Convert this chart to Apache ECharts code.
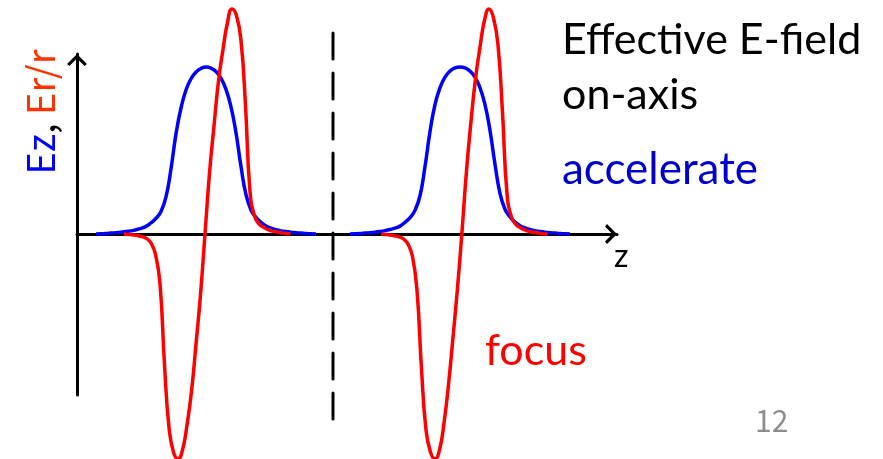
<!DOCTYPE html>
<html>
<head>
<meta charset="utf-8">
<script src="https://cdn.jsdelivr.net/npm/echarts@6/dist/echarts.min.js"></script>
<style>
html,body{margin:0;padding:0;background:#fff;}
#c{width:883px;height:459px;}
</style>
</head>
<body>
<div id="c"></div>
<script>
// Ez (accelerating field) – cell 1 and cell 2, sampled along z
const ezZ1 = [1.9,2.4,2.9,3.4,3.9,4.4,4.9,5.4,5.9,6.4,6.9,7.4,7.9,8.4,8.9,9.4,9.9,10.4,10.9,11.4,11.9,12.4,12.9,13.4,13.9,14.4,14.9,15.4,15.9,16.4,16.9,17.4,17.9,18.4,18.9,19.4,19.9,20.4,20.9,21.4,21.9,22.4,22.9,23.4,23.9];
const ezV1 = [0,0.001,0.002,0.004,0.006,0.008,0.011,0.014,0.019,0.025,0.034,0.05,0.07,0.10,0.165,0.29,0.445,0.56,0.64,0.69,0.72,0.736,0.742,0.737,0.722,0.692,0.643,0.565,0.45,0.30,0.175,0.107,0.074,0.052,0.036,0.026,0.019,0.014,0.011,0.008,0.006,0.004,0.002,0.001,0];
const ezZ2 = [27.3,27.8,28.3,28.8,29.3,29.8,30.3,30.8,31.3,31.8,32.3,32.8,33.3,33.8,34.3,34.8,35.3,35.8,36.3,36.8,37.3,37.8,38.3,38.8,39.3,39.8,40.3,40.8,41.3,41.8,42.3,42.8,43.3,43.8,44.3,44.8,45.3,45.8,46.3,46.8,47.3,47.8,48.3,48.8,49.3];
const ezV2 = [0,0.001,0.002,0.004,0.006,0.008,0.011,0.015,0.02,0.026,0.035,0.052,0.073,0.105,0.17,0.30,0.455,0.575,0.65,0.697,0.724,0.738,0.742,0.738,0.724,0.697,0.65,0.575,0.46,0.31,0.18,0.11,0.076,0.053,0.037,0.027,0.02,0.015,0.011,0.008,0.006,0.004,0.002,0.001,0];
// Er/r (focusing field) – cell 1 and cell 2
const erZ1 = [4.70,5.15,5.60,6.05,6.50,6.95,7.40,7.85,8.30,8.75,9.20,9.65,10.10,10.55,11.00,11.45,11.90,12.35,12.80,13.25,13.70,14.15,14.60,15.05,15.50,15.95,16.40,16.85,17.30,17.75,18.20,18.65,19.10,19.55,20.00,20.45,20.90,21.35];
const erV1 = [0,-0.002,-0.004,-0.007,-0.012,-0.02,-0.04,-0.09,-0.22,-0.58,-0.86,-0.97,-1.0,-0.96,-0.85,-0.70,-0.49,-0.27,0,0.27,0.48,0.68,0.82,0.94,1.0,0.97,0.86,0.57,0.19,0.08,0.045,0.03,0.02,0.013,0.009,0.005,0.002,0];
const erZ2 = [30.40,30.85,31.30,31.75,32.20,32.65,33.10,33.55,34.00,34.45,34.90,35.35,35.80,36.25,36.70,37.15,37.60,38.05,38.50,38.95,39.40,39.85,40.30,40.75,41.20,41.65,42.10,42.55,43.00,43.45,43.90,44.35,44.80,45.25,45.70,46.15,46.60,47.05];
const erV2 = [0,-0.002,-0.004,-0.008,-0.013,-0.022,-0.045,-0.10,-0.25,-0.60,-0.87,-0.97,-1.0,-0.96,-0.84,-0.67,-0.46,-0.24,0.01,0.28,0.50,0.69,0.83,0.95,1.0,0.96,0.84,0.54,0.18,0.075,0.042,0.028,0.018,0.011,0.007,0.004,0.001,0];
// cell boundary (dashed)
const cellBoundaryZ = 25.6;
const cellBoundarySpan = [0.893, -0.827];
const zRange = [0, 54];
const fieldRange = [-1, 1];

const zip = (zs, vs) => zs.map((z, i) => [z, vs[i]]);
const chevron = 'path://M10,0 L20,10 L17.6,12 L10,4.6 L2.4,12 L0,10 Z';
const chart = echarts.init(document.getElementById('c'), null, {renderer:'canvas'});
const curve = (data, color) => ({
  type:'line', xAxisIndex:0, yAxisIndex:0, data, smooth:0.5, symbol:'none',
  clip:false, lineStyle:{color, width:3.5}, silent:true
});
chart.setOption({
  animation:false,
  backgroundColor:'#ffffff',
  grid:[
    {left:77, top:9, width:540, height:450},
    {left:77, top:54, width:10, height:341}
  ],
  xAxis:[
    {gridIndex:0, type:'value', min:zRange[0], max:zRange[1],
     axisLine:{show:true, onZero:true, symbol:['none', chevron], symbolSize:[20,12], symbolOffset:[0,-6],
       lineStyle:{color:'#000', width:3}},
     axisTick:{show:false}, axisLabel:{show:false}, splitLine:{show:false}},
    {gridIndex:1, type:'value', min:0, max:1, show:false}
  ],
  yAxis:[
    {gridIndex:0, type:'value', min:fieldRange[0], max:fieldRange[1], show:false},
    {gridIndex:1, type:'value', min:0, max:1,
     axisLine:{show:true, onZero:false, symbol:['none', chevron], symbolSize:[20,12], symbolOffset:[0,-6],
       lineStyle:{color:'#000', width:3}},
     axisTick:{show:false}, axisLabel:{show:false}, splitLine:{show:false}}
  ],
  series:[
    curve(zip(ezZ1, ezV1), '#0000ff'),
    curve(zip(ezZ2, ezV2), '#0000ff'),
    curve(zip(erZ1, erV1), '#ff0000'),
    curve(zip(erZ2, erV2), '#ff0000'),
    {type:'line', xAxisIndex:0, yAxisIndex:0, symbol:'none', silent:true,
     data:[[cellBoundaryZ, cellBoundarySpan[0]],[cellBoundaryZ, cellBoundarySpan[1]]],
     lineStyle:{color:'#000', width:3, type:[26,14], cap:'round'}}
  ],
  graphic:[
    {type:'text', x:562, y:40, style:{text:'Effective E-field', font:'43px Lato', fill:'#000', verticalAlign:'middle'}},
    {type:'text', x:562, y:95, style:{text:'on-axis', font:'43px Lato', fill:'#000', verticalAlign:'middle'}},
    {type:'text', x:562, y:170, style:{text:'accelerate', font:'44px Lato', fill:'#0000cc', verticalAlign:'middle'}},
    {type:'text', x:485, y:351, style:{text:'focus', font:'43px Lato', fill:'#ff0000', verticalAlign:'middle'}},
    {type:'text', x:614, y:257, style:{text:'z', font:'32px Lato', fill:'#000', verticalAlign:'middle'}},
    {type:'text', x:755, y:421, style:{text:'12', font:'30px "Noto Sans CJK JP"', fill:'#8c8c8c', verticalAlign:'middle'}},
    {type:'text', x:41, y:112, rotation:Math.PI/2,
     style:{text:'{a|Ez}{b|, }{c|Er/r}', align:'center', verticalAlign:'middle',
       font:'38px "Noto Sans CJK JP"',
       rich:{
         a:{fill:'#0000ff', font:'38px "Noto Sans CJK JP"'},
         b:{fill:'#000000', font:'38px "Noto Sans CJK JP"'},
         c:{fill:'#ff3300', font:'38px "Noto Sans CJK JP"'}
       }}}
  ]
});
</script>
</body>
</html>
